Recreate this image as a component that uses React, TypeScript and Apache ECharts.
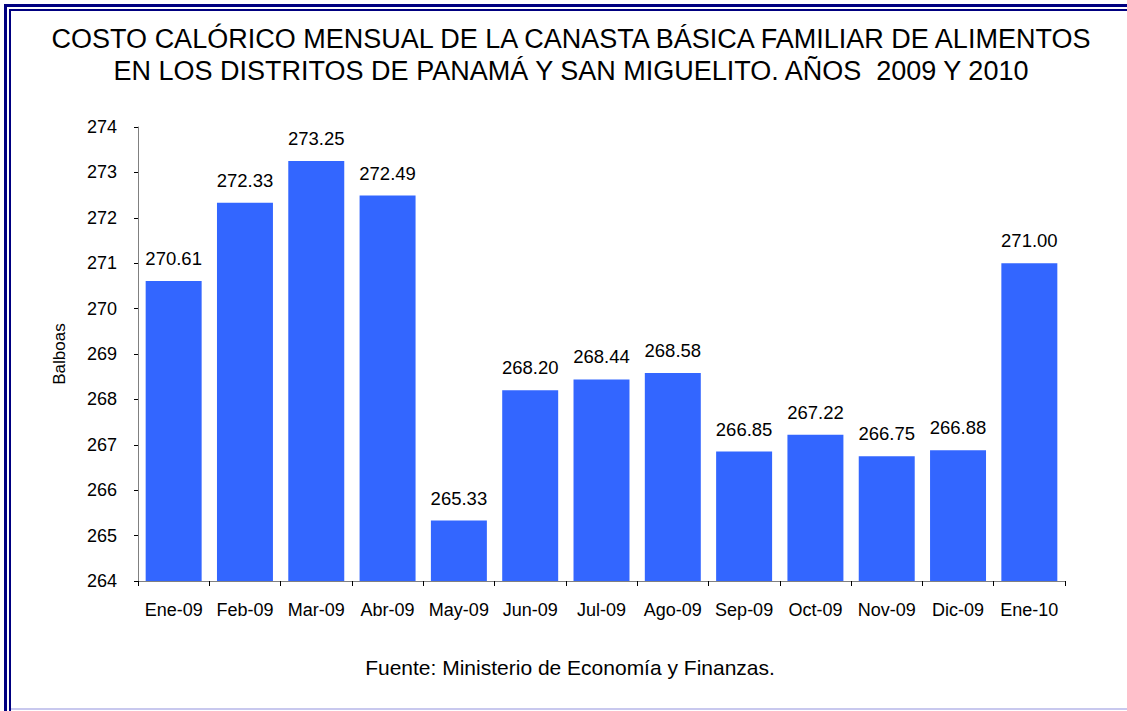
import React, { useEffect, useRef } from "react";
import * as echarts from "echarts";

const categories = ["Ene-09", "Feb-09", "Mar-09", "Abr-09", "May-09", "Jun-09", "Jul-09", "Ago-09", "Sep-09", "Oct-09", "Nov-09", "Dic-09", "Ene-10"];
const values = [270.61, 272.33, 273.25, 272.49, 265.33, 268.2, 268.44, 268.58, 266.85, 267.22, 266.75, 266.88, 271.0];
const titleLines = [
  "COSTO CALÓRICO MENSUAL DE LA CANASTA BÁSICA FAMILIAR DE ALIMENTOS",
  "EN LOS DISTRITOS DE PANAMÁ Y SAN MIGUELITO. AÑOS  2009 Y 2010",
];
const yAxisName = "Balboas";
const sourceNote = "Fuente: Ministerio de Economía y Finanzas.";

const FONT = "'Liberation Sans', Arial, sans-serif";

export default function App() {
  const ref = useRef<HTMLDivElement>(null);
  useEffect(() => {
    if (!ref.current) return;
    const chart = echarts.init(ref.current, null, { renderer: "svg" });
    chart.setOption({
      animation: false,
      backgroundColor: "#ffffff",
      textStyle: { fontFamily: FONT },
      grid: { left: 138, right: 62, top: 127, bottom: 130 },
      xAxis: {
        type: "category",
        data: categories,
        axisLine: { show: true, lineStyle: { color: "#808080", width: 1 } },
        axisTick: { show: true, alignWithLabel: false, length: 5, lineStyle: { color: "#000" } },
        axisLabel: { color: "#000", fontSize: 18, fontFamily: FONT, margin: 20, interval: 0 },
      },
      yAxis: {
        type: "value",
        min: 264,
        max: 274,
        interval: 1,
        name: yAxisName,
        nameLocation: "middle",
        nameGap: 70,
        nameTextStyle: { color: "#000", fontSize: 17, fontFamily: FONT },
        axisLine: { show: true, lineStyle: { color: "#808080", width: 1 } },
        axisTick: { show: true, length: 4, lineStyle: { color: "#000" } },
        axisLabel: { color: "#000", fontSize: 18, fontFamily: FONT, margin: 21 },
        splitLine: { show: false },
      },
      series: [
        {
          type: "bar",
          data: values,
          barCategoryGap: "21.5%",
          itemStyle: { color: "#3366FF" },
          label: {
            show: true,
            position: "top",
            distance: 13,
            color: "#000",
            fontSize: 18.5,
            fontFamily: FONT,
            formatter: (p: any) => Number(p.value).toFixed(2),
          },
        },
      ],
      graphic: [
        { type: "rect", shape: { x: 4, y: 4, width: 1200, height: 3 }, style: { fill: "#000080" }, silent: true },
        { type: "rect", shape: { x: 9, y: 9, width: 1200, height: 2 }, style: { fill: "#000080" }, silent: true },
        { type: "rect", shape: { x: 4, y: 4, width: 3, height: 800 }, style: { fill: "#000080" }, silent: true },
        { type: "rect", shape: { x: 9, y: 9, width: 2, height: 800 }, style: { fill: "#000080" }, silent: true },
        { type: "rect", shape: { x: 11, y: 708, width: 1200, height: 2 }, style: { fill: "#c8c8ee" }, silent: true },
        {
          type: "text",
          x: 571,
          y: 39,
          style: { text: titleLines[0], textAlign: "center", textVerticalAlign: "middle", fontSize: 27, fontFamily: FONT, fill: "#000" },
        },
        {
          type: "text",
          x: 571,
          y: 71,
          style: { text: titleLines[1], textAlign: "center", textVerticalAlign: "middle", fontSize: 27, fontFamily: FONT, fill: "#000" },
        },
        {
          type: "text",
          x: 570,
          y: 667,
          style: { text: sourceNote, textAlign: "center", textVerticalAlign: "middle", fontSize: 21, fontFamily: FONT, fill: "#000" },
        },
      ],
    });
    return () => chart.dispose();
  }, []);
  return <div ref={ref} style={{ position: "fixed", left: 0, top: 0, width: 1127, height: 711 }} />;
}
